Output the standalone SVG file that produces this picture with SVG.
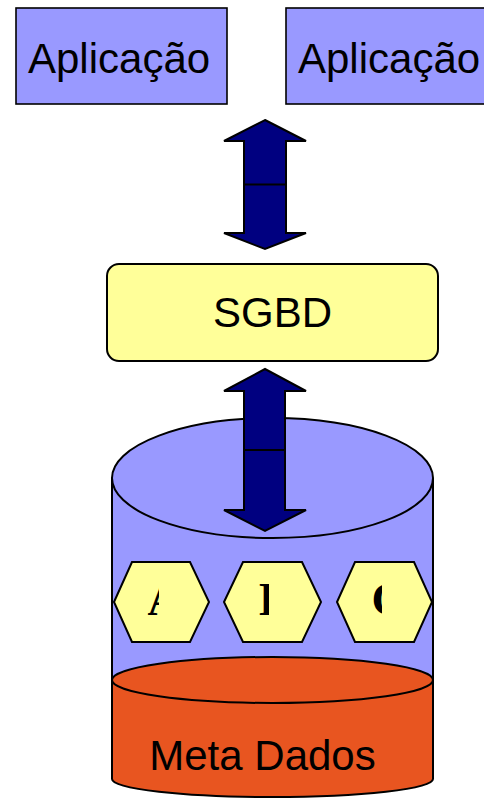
<svg xmlns="http://www.w3.org/2000/svg" width="484" height="798" viewBox="0 0 484 798">
<style>
.app{fill:#9999ff;stroke:#000;stroke-width:1.6}
.lbl{font-family:"Liberation Sans",Arial,sans-serif;fill:#000}
.arrow{fill:#000080;stroke:#000;stroke-width:2;stroke-linejoin:miter}
.cyl{fill:#9999ff;stroke:#000;stroke-width:2}
.meta{fill:#e85520;stroke:#000;stroke-width:2}
.hex{fill:#ffff99;stroke:#000;stroke-width:2;stroke-linejoin:miter}
.hl{font-family:"Liberation Serif","Times New Roman",serif;font-weight:bold;font-size:46px;fill:#000}
</style>
<defs>
<clipPath id="c1"><rect x="146" y="570" width="13" height="60"/></clipPath>
<clipPath id="c2"><rect x="257" y="570" width="12" height="60"/></clipPath>
<clipPath id="c3"><rect x="369" y="570" width="13" height="60"/></clipPath>
</defs>
<rect width="484" height="798" fill="#fff"/>
<g id="app1">
<rect class="app" x="16" y="8" width="211" height="96"/>
<text class="lbl" x="28" y="73" font-size="42">Aplicação</text>
</g>
<g id="app2">
<rect class="app" x="286" y="8" width="220" height="96"/>
<text class="lbl" x="298" y="73" font-size="42">Aplicação</text>
</g>
<g id="sgbd">
<rect x="107" y="264" width="331" height="97" rx="12" ry="12" fill="#ffff99" stroke="#000" stroke-width="2"/>
<text class="lbl" x="272.5" y="327" font-size="42" text-anchor="middle">SGBD</text>
</g>
<g id="database">
<path class="cyl" d="M112,478 V720 A160.5,23 0 0 0 433,720 V478"/>
<ellipse class="cyl" cx="272.5" cy="478" rx="160.5" ry="60"/>
<path class="meta" d="M112,680 V779 A160.5,18 0 0 0 433,779 V680 Z"/>
<ellipse class="meta" cx="272.5" cy="680" rx="160.5" ry="23"/>
<text class="lbl" x="262.5" y="770" font-size="42" text-anchor="middle">Meta Dados</text>
</g>
<g id="hexA">
<polygon class="hex" points="114,602 132,562 190,562 209,602 190,642 132,642"/>
<text class="hl" x="147.5" y="615" clip-path="url(#c1)">A</text>
</g>
<g id="hexB">
<polygon class="hex" points="224,602 243,562 302,562 321,602 302,642 243,642"/>
<text class="hl" x="259" y="615" clip-path="url(#c2)">B</text>
</g>
<g id="hexC">
<polygon class="hex" points="337,602 355,562 414,562 432,602 414,642 355,642"/>
<text class="hl" x="371.5" y="615" clip-path="url(#c3)">C</text>
</g>
<g id="connectors">
<path class="arrow" d="M265,120 L306,141 L286,141 L286,233 L306,233 L265,249 L224,233 L244,233 L244,141 L224,141 Z"/>
<line x1="244" y1="184.5" x2="286" y2="184.5" stroke="#000" stroke-width="2"/>
<path class="arrow" d="M265,369 L306,391 L285,391 L285,510 L306,510 L265,531 L224,510 L244,510 L244,391 L224,391 Z"/>
<line x1="244" y1="450" x2="285" y2="450" stroke="#000" stroke-width="2"/>
</g>
</svg>
